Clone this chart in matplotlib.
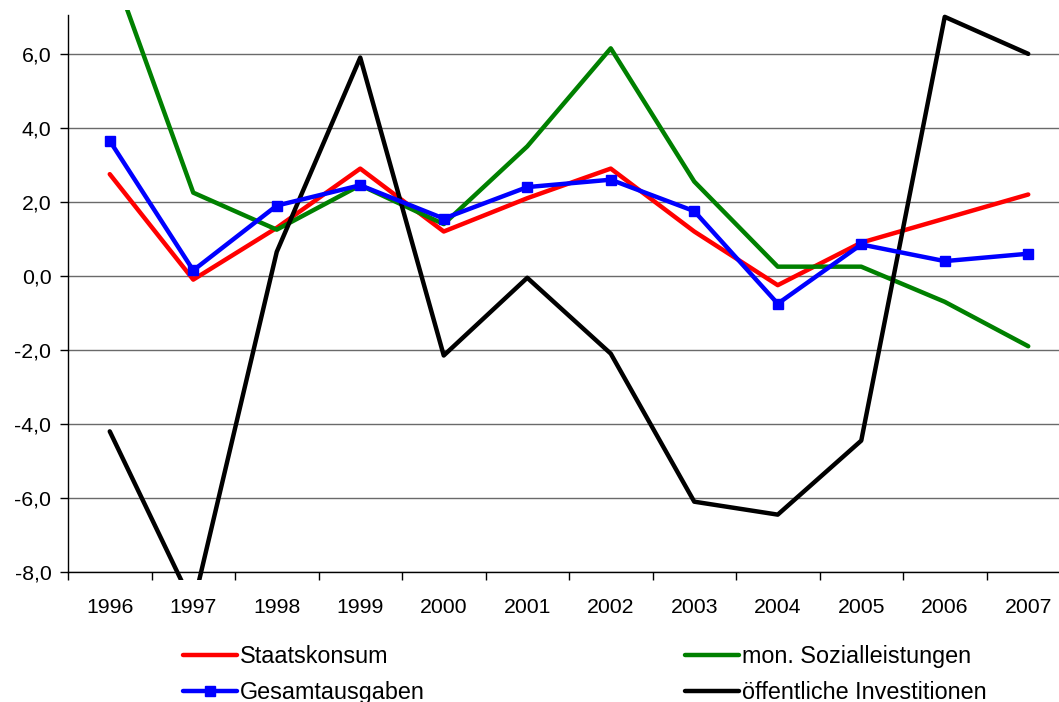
import matplotlib
matplotlib.use("Agg")
import matplotlib.pyplot as plt
from matplotlib.ticker import FuncFormatter, FixedLocator
from matplotlib.patches import Rectangle

years = ["1996", "1997", "1998", "1999", "2000", "2001", "2002", "2003", "2004", "2005", "2006", "2007"]
staatskonsum = [2.75, -0.1, 1.3, 2.9, 1.2, 2.1, 2.9, 1.2, -0.25, 0.9, 1.55, 2.2]
sozialleistungen = [8.5, 2.25, 1.25, 2.45, 1.4, 3.5, 6.15, 2.55, 0.25, 0.25, -0.7, -1.9]
gesamtausgaben = [3.65, 0.15, 1.9, 2.45, 1.55, 2.4, 2.6, 1.75, -0.75, 0.85, 0.4, 0.6]
investitionen = [-4.2, -8.9, 0.65, 5.9, -2.15, -0.05, -2.1, -6.1, -6.45, -4.45, 7.0, 6.0]
yticks = [-8, -6, -4, -2, 0, 2, 4, 6]

plt.rcParams['font.family'] = ['Liberation Sans', 'DejaVu Sans']

W, H = 1059, 702
fig = plt.figure(figsize=(W / 100, H / 100), dpi=100)
left, right, top, bottom = 68, 1070, 15, 572
ax = fig.add_axes([left / W, (H - bottom) / H, (right - left) / W, (bottom - top) / H])

x = list(range(len(years)))
clip = Rectangle((0, (H - 580) / H), 1.05, (580 - 10) / H, transform=fig.transFigure, visible=False)

for yv in yticks:
    ax.axhline(yv, color='#6a6a6a', lw=1.0, zorder=1)

lw = 3.2
style = dict(lw=lw, solid_capstyle='round', solid_joinstyle='round', zorder=3)
l1, = ax.plot(x, staatskonsum, color='#ff0000', label='Staatskonsum', **style)
l3, = ax.plot(x, sozialleistungen, color='#008000', label='mon. Sozialleistungen', **style)
l2, = ax.plot(x, gesamtausgaben, color='#0000ff', marker='s', markersize=6.5,
              label='Gesamtausgaben', **style)
l2.set_zorder(4)
l4, = ax.plot(x, investitionen, color='#000000', label='öffentliche Investitionen', **style)
for ln in (l1, l2, l3, l4):
    ln.set_clip_path(clip)

ax.set_xlim(-0.5, len(years) - 0.5)
ax.set_ylim(-8, 7.05)
ax.set_yticks(yticks)
ax.yaxis.set_major_formatter(FuncFormatter(lambda v, p: f"{v:.1f}".replace('.', ',')))
ax.set_xticks(x)
ax.set_xticklabels(years)
ax.xaxis.set_minor_locator(FixedLocator([i + 0.5 for i in range(-1, len(years))]))
ax.tick_params(axis='x', which='major', length=0, pad=19, labelsize=15.3)
ax.tick_params(axis='x', which='minor', length=6, width=1, color='#000000')
ax.tick_params(axis='y', length=6, width=1, pad=6, labelsize=15.3)

for s in ['top', 'right']:
    ax.spines[s].set_visible(False)
ax.spines['left'].set_color('#000000')
ax.spines['bottom'].set_color('#000000')
ax.spines['left'].set_linewidth(1)
ax.spines['bottom'].set_linewidth(1)

legkw = dict(loc='upper left', frameon=False, fontsize=16.8, handlelength=2.3,
             handletextpad=0.13, labelspacing=0.56, borderpad=0, borderaxespad=0)
leg1 = fig.legend(handles=[l1, l2], bbox_to_anchor=(183 / W, (H - 645) / H), **legkw)
leg2 = fig.legend(handles=[l3, l4], bbox_to_anchor=(685 / W, (H - 645) / H), **legkw)

fig.savefig('out.png', dpi=100)
